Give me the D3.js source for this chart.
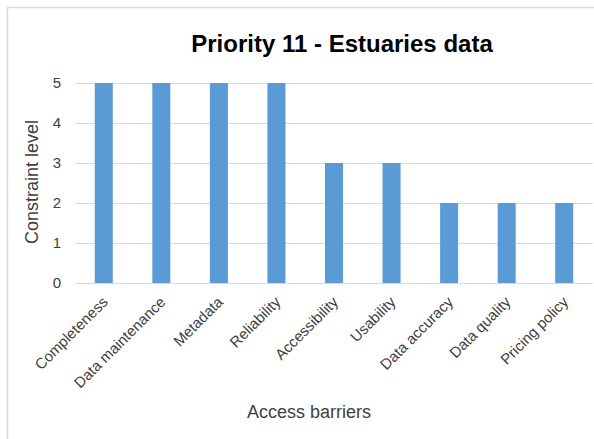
<!DOCTYPE html>
<html>
<head>
<meta charset="utf-8">
<script src="https://cdn.jsdelivr.net/npm/d3@7"></script>
<style>
  html, body { margin: 0; padding: 0; background: #fff; }
  svg { display: block; font-family: Arial, "Liberation Sans", sans-serif; }
</style>
</head>
<body>
<svg id="chart" width="594" height="439"></svg>
<script>
// Constraint level per access barrier
const categories = ["Completeness", "Data maintenance", "Metadata", "Reliability",
  "Accessibility", "Usability", "Data accuracy", "Data quality", "Pricing policy"];
const values = [5, 5, 5, 5, 3, 3, 2, 2, 2];
const yTicks = [0, 1, 2, 3, 4, 5];

const chartTitle = "Priority 11 - Estuaries data";
const yTitle = "Constraint level";
const xTitle = "Access barriers";

const W = 594, H = 439;
const plot = { left: 75, right: 593, top: 83, bottom: 283 };

const svg = d3.select("#chart");

// Chart frame (its right and bottom sides run off the page)
svg.append("rect")
  .attr("x", 7.5).attr("y", 7.5)
  .attr("width", W + 10).attr("height", H + 10)
  .attr("fill", "#fff")
  .attr("stroke", "#d9d9d9").attr("stroke-width", 1.5);

const x = d3.scaleBand()
  .domain(categories)
  .range([plot.left, plot.right])
  .paddingInner(0.687)
  .paddingOuter(0.3435);

const y = d3.scaleLinear()
  .domain([0, 5])
  .range([plot.bottom, plot.top]);

// Horizontal gridlines
svg.append("g")
  .selectAll("line")
  .data(yTicks)
  .join("line")
  .attr("x1", plot.left).attr("x2", plot.right)
  .attr("y1", d => Math.round(y(d)) + 0.5).attr("y2", d => Math.round(y(d)) + 0.5)
  .attr("stroke", "#d9d9d9").attr("stroke-width", 1);

// Bars
svg.append("g")
  .selectAll("rect")
  .data(categories)
  .join("rect")
  .attr("x", d => x(d))
  .attr("width", x.bandwidth())
  .attr("y", (d, i) => y(values[i]))
  .attr("height", (d, i) => y(0) - y(values[i]))
  .attr("fill", "#5b9bd5");

// Y axis labels
const yAxis = d3.axisLeft(y).tickValues(yTicks).tickFormat(d3.format("d"))
  .tickSize(0).tickPadding(0);
svg.append("g")
  .attr("transform", `translate(${plot.left - 14},0)`)
  .call(yAxis)
  .call(g => g.select(".domain").remove())
  .call(g => g.selectAll("text")
    .attr("font-size", 15)
    .attr("font-family", "Arial, 'Liberation Sans', sans-serif")
    .attr("fill", "#404040"));

// X axis category labels, rotated
const xAxis = d3.axisBottom(x).tickSize(0).tickPadding(0);
svg.append("g")
  .attr("transform", `translate(0,${plot.bottom})`)
  .call(xAxis)
  .call(g => g.select(".domain").remove())
  .call(g => g.selectAll("text")
    .attr("font-size", 15)
    .attr("font-family", "Arial, 'Liberation Sans', sans-serif")
    .attr("fill", "#404040")
    .attr("text-anchor", "end")
    .attr("dy", 0)
    .attr("y", 0)
    .attr("transform", "translate(5,20) rotate(-45)"));

// Baseline
svg.append("line")
  .attr("x1", plot.left).attr("x2", plot.right)
  .attr("y1", Math.round(y(0)) + 0.5).attr("y2", Math.round(y(0)) + 0.5)
  .attr("stroke", "#d9d9d9").attr("stroke-width", 1);

// Titles
svg.append("text")
  .attr("x", 342).attr("y", 52)
  .attr("text-anchor", "middle")
  .attr("font-size", 24).attr("font-weight", "bold")
  .attr("fill", "#000")
  .text(chartTitle);

svg.append("text")
  .attr("transform", "translate(38,182) rotate(-90)")
  .attr("text-anchor", "middle")
  .attr("font-size", 18)
  .attr("fill", "#404040")
  .text(yTitle);

svg.append("text")
  .attr("x", 309).attr("y", 418)
  .attr("text-anchor", "middle")
  .attr("font-size", 18)
  .attr("fill", "#404040")
  .text(xTitle);
</script>
</body>
</html>
